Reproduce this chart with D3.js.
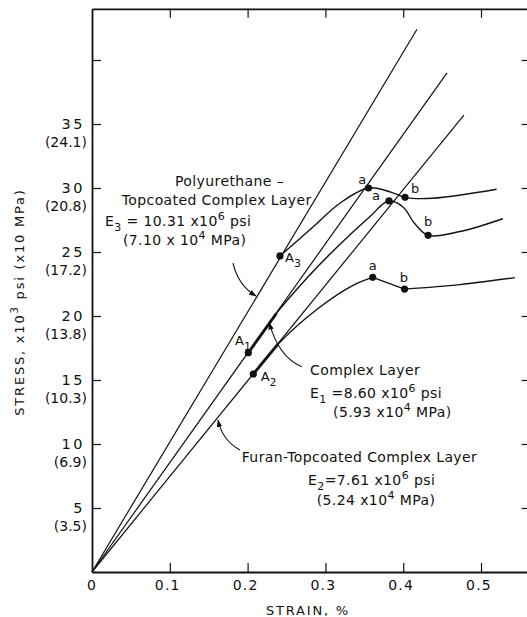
<!DOCTYPE html>
<html>
<head>
<meta charset="utf-8">
<script src="https://cdn.jsdelivr.net/npm/d3@7"></script>
<style>
body { margin: 0; background: #fff; }
svg { display: block; font-family: "DejaVu Sans", sans-serif; fill: #111; }
.axis path, .axis line { stroke: #111; }
.axis path.domain { stroke-width: 1.8; }
.axis line { stroke-width: 1.2; }
.modulus { fill: none; stroke: #111; stroke-width: 1.2; }
.curve { fill: none; stroke: #111; stroke-width: 1.4; }
.heavy { fill: none; stroke: #111; stroke-width: 2.8; }
.leader { fill: none; stroke: #111; stroke-width: 1.1; }
.dot { fill: #111; }
</style>
</head>
<body>
<script>
// tick values and labels
const xTicks = [0, 0.1, 0.2, 0.3, 0.4, 0.5]
const xTickLabels = ["0", "0.1", "0.2", "0.3", "0.4", "0.5"]
const yTicks = [5, 10, 15, 20, 25, 30, 35, 40]
const yTickLabels = ["5", "10", "15", "20", "25", "30", "35", ""]
const yTickMPa = ["(3.5)", "(6.9)", "(10.3)", "(13.8)", "(17.2)", "(20.8)", "(24.1)", ""]

// modulus lines from origin (strain %, stress ksi)
const moduliEnds = [[0.4177, 42.4], [0.4563, 39.0], [0.478, 35.7]]

// stress-strain curves
const polyCurve = [[0.2416, 24.69], [0.284, 26.95], [0.319, 28.83], [0.3554, 30.0], [0.385, 29.66], [0.4023, 29.27], [0.438, 29.2], [0.520, 29.9]]
const complexCurve = [[0.2009, 17.13], [0.237, 20.2], [0.276, 22.95], [0.306, 24.85], [0.357, 27.76], [0.3817, 29.0], [0.400, 28.5], [0.415, 27.2], [0.432, 26.3], [0.473, 26.6], [0.528, 27.6]]
const furanRise = [[0.2073, 15.47], [0.239, 17.8], [0.293, 20.7], [0.3355, 22.4], [0.3608, 23.02]]
const furanDrop = [[0.3608, 23.02], [0.4017, 22.1]]
const furanTail = [[0.4017, 22.1], [0.473, 22.45], [0.5437, 23.0]]

// heavy segments along the modulus lines
const heavySegments = [[[0.2009, 17.13], [0.237, 20.2]], [[0.2073, 15.47], [0.239, 17.8]]]

// marked points
const points = [[0.2416, 24.69], [0.2009, 17.13], [0.2073, 15.47],
    [0.3554, 30.0], [0.4023, 29.27], [0.3817, 29.0], [0.432, 26.3], [0.3608, 23.02], [0.4017, 22.1]]
const pointLetters = ["a", "b", "a", "b", "a", "b"]
const pointLetterPos = [[0.3473, 30.3], [0.4152, 29.6], [0.365, 29.06], [0.4319, 27.03], [0.3608, 23.59], [0.401, 22.68]]
const aNames = ["A", "A", "A"]
const aSubs = ["3", "1", "2"]
const aNamePos = [[0.2481, 24.22], [0.1838, 17.73], [0.2168, 14.92]]

const width = 527,
    height = 617

const svg = d3.select("body")
    .append("svg")
    .attr("width", width)
    .attr("height", height)

const x = d3.scaleLinear().domain([0, 0.56]).range([92, 527.7])
const y = d3.scaleLinear().domain([0, 44]).range([572, 572 - 44 * 12.8])

// frame: four axes with ticks pointing inward
svg.append("g").attr("class", "axis")
    .attr("transform", `translate(0,${y(0)})`)
    .call(d3.axisBottom(x).tickValues(xTicks.slice(1)).tickSize(-9).tickSizeOuter(0).tickFormat(""))
svg.append("g").attr("class", "axis")
    .attr("transform", `translate(0,${y(44)})`)
    .call(d3.axisTop(x).tickValues(xTicks.slice(1)).tickSize(-9).tickSizeOuter(0).tickFormat(""))
svg.append("g").attr("class", "axis")
    .attr("transform", `translate(${x(0)},0)`)
    .call(d3.axisLeft(y).tickValues(yTicks).tickSize(-9).tickSizeOuter(0).tickFormat(""))
svg.append("g").attr("class", "axis")
    .attr("transform", `translate(${x(0.56)},0)`)
    .call(d3.axisRight(y).tickValues(yTicks).tickSize(-6).tickSizeOuter(0).tickFormat(""))
svg.selectAll(".axis text").remove()

// tick labels
svg.selectAll(".xlab")
    .data(xTicks)
    .enter().append("text")
    .attr("x", d => x(d) + (d === 0 ? 0 : -2))
    .attr("y", 590)
    .attr("text-anchor", "middle")
    .attr("font-size", 14)
    .attr("letter-spacing", 1.2)
    .text((d, i) => xTickLabels[i])

svg.selectAll(".ylab")
    .data(yTicks)
    .enter().append("text")
    .attr("x", 85)
    .attr("y", d => y(d) + 5)
    .attr("text-anchor", "end")
    .attr("font-size", 14.5)
    .attr("letter-spacing", 2.5)
    .text((d, i) => yTickLabels[i])

svg.selectAll(".ympa")
    .data(yTicks)
    .enter().append("text")
    .attr("x", 87)
    .attr("y", d => y(d) + 23)
    .attr("text-anchor", "end")
    .attr("font-size", 14)
    .text((d, i) => yTickMPa[i])

// axis titles
svg.append("text")
    .attr("x", 308)
    .attr("y", 615)
    .attr("text-anchor", "middle")
    .attr("font-size", 13)
    .attr("letter-spacing", 1.8)
    .text("STRAIN, %")

const yTitle = svg.append("text")
    .attr("transform", "translate(24,302) rotate(-90)")
    .attr("text-anchor", "middle")
    .attr("font-size", 13)
    .attr("letter-spacing", 1.8)
yTitle.append("tspan").text("STRESS, x10")
yTitle.append("tspan").attr("dy", -6).attr("font-size", 10).text("3")
yTitle.append("tspan").attr("dy", 6).text(" psi  (x10  MPa)")

// modulus lines
svg.selectAll(".modulus")
    .data(moduliEnds)
    .enter().append("line")
    .attr("class", "modulus")
    .attr("x1", x(0))
    .attr("y1", y(0))
    .attr("x2", d => x(d[0]))
    .attr("y2", d => y(d[1]))

const smooth = d3.line().x(d => x(d[0])).y(d => y(d[1])).curve(d3.curveCatmullRom.alpha(0.5))
const straight = d3.line().x(d => x(d[0])).y(d => y(d[1]))

svg.selectAll(".curve")
    .data([polyCurve, complexCurve, furanRise, furanTail])
    .enter().append("path")
    .attr("class", "curve")
    .attr("d", smooth)

svg.append("path").datum(furanDrop).attr("class", "curve").attr("d", straight)

svg.selectAll(".heavy")
    .data(heavySegments)
    .enter().append("path")
    .attr("class", "heavy")
    .attr("d", straight)

svg.selectAll(".dot")
    .data(points)
    .enter().append("circle")
    .attr("class", "dot")
    .attr("cx", d => x(d[0]))
    .attr("cy", d => y(d[1]))
    .attr("r", 3.6)

// a / b markers
svg.selectAll(".plab")
    .data(pointLetterPos)
    .enter().append("text")
    .attr("x", d => x(d[0]))
    .attr("y", d => y(d[1]))
    .attr("text-anchor", "middle")
    .attr("font-size", 13)
    .text((d, i) => pointLetters[i])

const aLab = svg.selectAll(".alab")
    .data(aNamePos)
    .enter().append("text")
    .attr("x", d => x(d[0]))
    .attr("y", d => y(d[1]))
    .attr("font-size", 13)
aLab.append("tspan").text((d, i) => aNames[i])
aLab.append("tspan").attr("dy", 5).attr("font-size", 11).text((d, i) => aSubs[i])

// annotation blocks: [strain, stress, pieces]; pieces are normal / sup / sub runs
const notes = [
    [0.1067, 30.16, [["", "Polyurethane –"]]],
    [0.0382, 28.67, [["", "Topcoated Complex Layer"]]],
    [0.0167, 27.03, [["", "E"], ["sub", "3"], ["", " = 10.31  x10"], ["sup", "6"], ["", " psi"]]],
    [0.0398, 25.55, [["", "(7.10  x 10"], ["sup", "4"], ["", " MPa)"]]],
    [0.2802, 15.39, [["", "Complex Layer"]]],
    [0.2802, 13.59, [["", "E"], ["sub", "1"], ["", " =8.60 x10"], ["sup", "6"], ["", " psi"]]],
    [0.3098, 12.11, [["", "(5.93 x10"], ["sup", "4"], ["", " MPa)"]]],
    [0.1924, 8.59, [["", "Furan-Topcoated Complex Layer"]]],
    [0.2776, 6.80, [["", "E"], ["sub", "2"], ["", "=7.61 x10"], ["sup", "6"], ["", " psi"]]],
    [0.2888, 5.23, [["", "(5.24 x10"], ["sup", "4"], ["", " MPa)"]]]
]

notes.forEach(n => {
    const t = svg.append("text")
        .attr("x", x(n[0]))
        .attr("y", y(n[1]))
        .attr("font-size", 14)
        .attr("letter-spacing", 0.4)
    let shift = 0
    n[2].forEach(p => {
        const want = p[0] === "sup" ? -6 : p[0] === "sub" ? 5 : 0
        t.append("tspan")
            .attr("dy", want - shift)
            .attr("font-size", p[0] ? 11 : 14)
            .text(p[1])
        shift = want
    })
})

// curved leaders with arrowheads
svg.append("defs").append("marker")
    .attr("id", "arrow")
    .attr("viewBox", "0 0 10 10")
    .attr("refX", 9).attr("refY", 5)
    .attr("markerWidth", 7).attr("markerHeight", 7)
    .attr("orient", "auto")
    .append("path")
    .attr("d", "M0,1.5L10,5L0,8.5Z")
    .attr("fill", "#111")

const leaders = [
    [[0.1812, 24.14], [0.1877, 22.42], [0.2108, 21.56]],
    [[0.2695, 16.04], [0.2395, 16.80], [0.2279, 19.48]],
    [[0.1902, 9.53], [0.1671, 10.31], [0.1620, 11.875]]
]

svg.selectAll(".leader")
    .data(leaders)
    .enter().append("path")
    .attr("class", "leader")
    .attr("marker-end", "url(#arrow)")
    .attr("d", d => `M${x(d[0][0])},${y(d[0][1])}Q${x(d[1][0])},${y(d[1][1])} ${x(d[2][0])},${y(d[2][1])}`)
</script>
</body>
</html>
